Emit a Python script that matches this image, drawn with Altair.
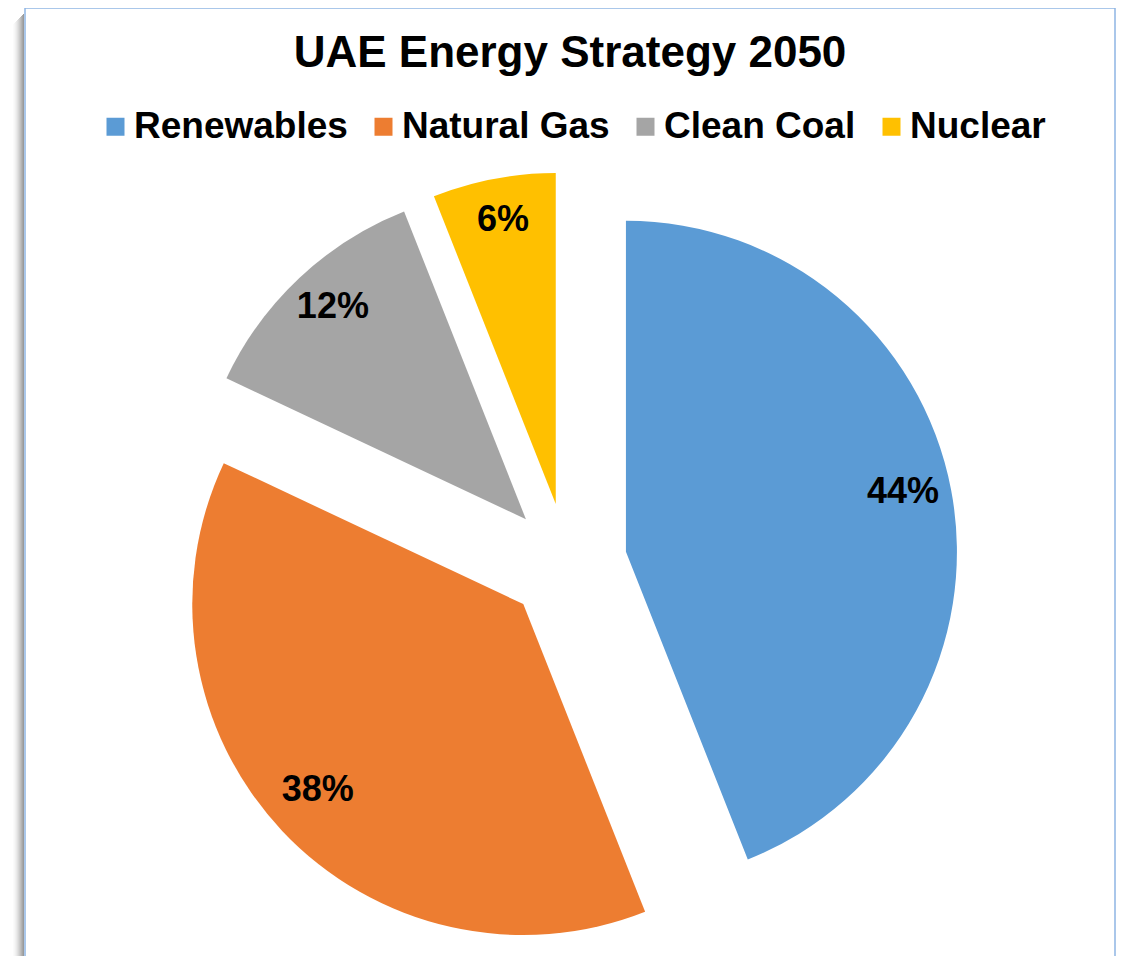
import altair as alt
import pandas as pd

# ---- data ----
categories = ["Renewables", "Natural Gas", "Clean Coal", "Nuclear"]
shares = [44, 38, 12, 6]

# ---- styles ----
colors = ["#5B9BD5", "#ED7D31", "#A5A5A5", "#FFC000"]

df = pd.DataFrame({
    "order": list(range(len(categories))),
    "category": categories,
    "share": shares,
})

W, H = 1108, 796
PAD_TOP = 152
CX, CY = 559, 403      # pie centre inside the view (pixels)
R = 331                # pie radius
EXPLODE = 60           # point explosion distance (pixels)
LABEL_R = 282
FONT = "Liberation Sans"

base = (
    alt.Chart(df)
    .transform_window(cum="sum(share)", sort=[alt.SortField("order")], frame=[None, 0])
    .transform_joinaggregate(total="sum(share)")
    .transform_calculate(end="datum.cum / datum.total")
    .transform_calculate(start="(datum.cum - datum.share) / datum.total")
    .transform_calculate(mid="(datum.start + datum.end) / 2")
    .transform_calculate(ang="2 * PI * datum.mid")
    .transform_calculate(cx=f"{CX} + {EXPLODE} * sin(datum.ang)")
    .transform_calculate(cy=f"{CY} - {EXPLODE} * cos(datum.ang)")
    .transform_calculate(label="format(datum.share / datum.total, '.0%')")
)

theta_scale = alt.Scale(domain=[0, 1])

arcs = base.mark_arc(outerRadius=R, stroke=None).encode(
    theta=alt.Theta("start:Q", stack=None, scale=theta_scale),
    theta2="end:Q",
    x=alt.X("cx:Q", scale=None, axis=None, stack=None),
    y=alt.Y("cy:Q", scale=None, axis=None, stack=None),
    color=alt.Color(
        "category:N",
        scale=alt.Scale(domain=categories, range=colors),
        sort=categories,
        legend=alt.Legend(
            title=None,
            orient="none",
            direction="horizontal",
            legendX=89,
            legendY=-52,
            symbolType="square",
            symbolSize=324,
            symbolStrokeWidth=0,
            symbolOpacity=1,
            labelFont=FONT,
            labelFontSize=37,
            labelFontWeight="bold",
            labelColor="#000000",
            labelOffset=0,
            columnPadding=17,
            labelLimit=400,
        ),
    ),
)

labels = base.mark_text(
    radius=LABEL_R, font=FONT, fontSize=36, fontWeight="bold", color="#000000",
    align="center", baseline="middle", dy=-7,
).encode(
    theta=alt.Theta("mid:Q", stack=None, scale=theta_scale),
    x=alt.X("cx:Q", scale=None, axis=None, stack=None),
    y=alt.Y("cy:Q", scale=None, axis=None, stack=None),
    text="label:N",
)

one = alt.Data(values=[{"k": 1}])
deco = []
# shadow (left, darker near the frame)
left_shades = ["#9a9a9a", "#a6a6a6", "#b3b3b3", "#c0c0c0", "#cccccc", "#d7d7d7",
               "#e1e1e1", "#eaeaea", "#f1f1f1", "#f7f7f7", "#fbfbfb"]
for i, c in enumerate(left_shades):
    deco.append(alt.Chart(one).mark_rule(color=c, strokeWidth=1).encode(
        x=alt.value(15.5 - i), y=alt.value(-146 + i), y2=alt.value(H + 20)))
top_shades = ["#dcdcdc", "#e6e6e6", "#eeeeee", "#f4f4f4", "#f9f9f9", "#fcfcfc"]
for i, c in enumerate(top_shades):
    deco.append(alt.Chart(one).mark_rule(color=c, strokeWidth=1).encode(
        y=alt.value(-152.5 - i), x=alt.value(10 + i), x2=alt.value(1100 - i)))
# frame
frame_col = "#8EB4E3"
deco.append(alt.Chart(one).mark_rule(color=frame_col, strokeWidth=1.5).encode(
    x=alt.value(17), y=alt.value(-152), y2=alt.value(H + 20)))
deco.append(alt.Chart(one).mark_rule(color=frame_col, strokeWidth=1.5).encode(
    x=alt.value(17), x2=alt.value(1107), y=alt.value(-152)))
deco.append(alt.Chart(one).mark_rule(color=frame_col, strokeWidth=1.5).encode(
    x=alt.value(1107), y=alt.value(-152), y2=alt.value(H + 20)))

chart = (
    alt.layer(*deco, arcs, labels)
    .properties(
        width=W,
        height=H,
        padding={"left": 0, "top": PAD_TOP, "right": 0, "bottom": 0},
        autosize=alt.AutoSizeParams(type="none"),
        background="#ffffff",
        title=alt.Title(
            "UAE Energy Strategy 2050",
            font=FONT, fontSize=44, fontWeight="bold", color="#000000",
            anchor="middle", dx=8, frame="group", offset=-74,
        ),
    )
    .configure_view(strokeWidth=0)
)

chart.save("out.html", embed_options={"renderer": "svg", "actions": False})
